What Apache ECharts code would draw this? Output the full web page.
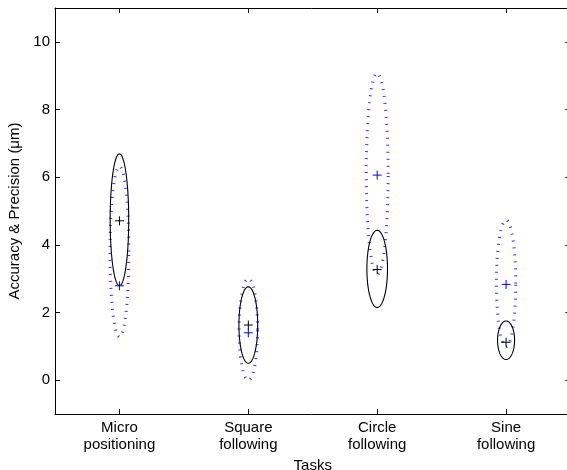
<!DOCTYPE html>
<html>
<head>
<meta charset="utf-8">
<script src="https://cdn.jsdelivr.net/npm/echarts@6/dist/echarts.min.js"></script>
<style>
  html, body { margin: 0; padding: 0; background: #fff; }
  #chart { width: 567px; height: 470px; }
</style>
</head>
<body>
<div id="chart"></div>
<script>
// tasks along the x axis
var categories = ['Micro\npositioning', 'Square\nfollowing', 'Circle\nfollowing', 'Sine\nfollowing']
var yTicks = [0, 2, 4, 6, 8, 10]

// black solid ellipses (um): centre, half height, half width in task units, marker
var solidCenter = [4.74, 1.63, 3.29, 1.18]
var solidHalfHeight = [1.95, 1.13, 1.14, 0.57]
var solidHalfWidth = [0.072, 0.073, 0.080, 0.066]
var solidMark = [4.71, 1.63, 3.27, 1.12]

// blue dotted ellipses
var dottedCenter = [3.80, 1.50, 6.10, 2.86]
var dottedHalfHeight = [2.52, 1.50, 2.97, 1.87]
var dottedHalfWidth = [0.073, 0.072, 0.085, 0.075]
var dottedMark = [2.79, 1.40, 6.06, 2.83]

var font = "'Liberation Sans', Arial, Helvetica, sans-serif"

function ellipseData(center, hh, hw) {
  return center.map(function(c, i) { return [i, c, hh[i], hw[i]] })
}

function ellipseItem(style) {
  return function(params, api) {
    var idx = api.value(0), cy = api.value(1), hh = api.value(2), hw = api.value(3)
    var rx = hw * api.size([1, 0])[0]
    var cx = api.coord([idx, cy])[0]
    var pts = []
    for (var k = 0; k <= 120; k++) {
      var a = (k / 120) * Math.PI * 2
      var y = api.coord([idx, cy + hh * Math.sin(a)])[1]
      pts.push([cx + rx * Math.cos(a), y])
    }
    return { type: 'polyline', shape: { points: pts }, style: style, silent: true }
  }
}

function plusItem(color) {
  return function(params, api) {
    var p = api.coord([api.value(0), api.value(1)])
    var s = 4.5
    var st = { stroke: color, lineWidth: 1 }
    return {
      type: 'group',
      children: [
        { type: 'line', shape: { x1: p[0] - s, y1: p[1], x2: p[0] + s, y2: p[1] }, style: st },
        { type: 'line', shape: { x1: p[0], y1: p[1] - s, x2: p[0], y2: p[1] + s }, style: st }
      ]
    }
  }
}

var chart = echarts.init(document.getElementById('chart'))

var tickStyle = { show: true, inside: true, length: 5, alignWithLabel: true, lineStyle: { color: '#000' } }

chart.setOption({
  animation: false,
  textStyle: { fontFamily: font },
  grid: { left: 55, top: 8, bottom: 56, right: -3.5, containLabel: false, outerBoundsMode: 'none' },
  xAxis: [{
    type: 'category',
    data: categories,
    boundaryGap: true,
    position: 'bottom',
    name: 'Tasks',
    nameLocation: 'middle',
    nameGap: 38,
    nameTextStyle: { color: '#000', fontSize: 15, fontFamily: font },
    axisLine: { onZero: false, lineStyle: { color: '#000', width: 1 } },
    axisTick: tickStyle,
    axisLabel: { color: '#000', fontSize: 15, lineHeight: 17, margin: 5, fontFamily: font, interval: 0 },
    splitLine: { show: false }
  }, {
    type: 'category',
    data: categories,
    boundaryGap: true,
    position: 'top',
    axisLine: { onZero: false, lineStyle: { color: '#000', width: 1 } },
    axisTick: tickStyle,
    axisLabel: { show: false },
    splitLine: { show: false }
  }],
  yAxis: [{
    type: 'value',
    min: -1,
    max: 11,
    position: 'left',
    name: 'Accuracy & Precision (μm)',
    nameLocation: 'middle',
    nameGap: 32,
    nameTextStyle: { color: '#000', fontSize: 15, fontFamily: font },
    axisLine: { show: true, onZero: false, lineStyle: { color: '#000', width: 1 } },
    axisTick: { show: true, inside: true, length: 5, customValues: yTicks, lineStyle: { color: '#000' } },
    axisLabel: { color: '#000', fontSize: 15, margin: 5, fontFamily: font, customValues: yTicks },
    splitLine: { show: false }
  }, {
    type: 'value',
    min: -1,
    max: 11,
    position: 'right',
    axisLine: { show: true, onZero: false, lineStyle: { color: '#000', width: 1 } },
    axisTick: { show: true, inside: true, length: 5, customValues: yTicks, lineStyle: { color: '#000' } },
    axisLabel: { show: false },
    splitLine: { show: false }
  }],
  series: [{
    type: 'custom',
    name: 'dotted',
    renderItem: ellipseItem({ fill: 'none', stroke: '#3030ff', lineWidth: 3, lineDash: [1, 6] }),
    data: ellipseData(dottedCenter, dottedHalfHeight, dottedHalfWidth),
    encode: { x: 0, y: 1 },
    z: 2
  }, {
    type: 'custom',
    name: 'solid',
    renderItem: ellipseItem({ fill: 'none', stroke: '#000', lineWidth: 1.1 }),
    data: ellipseData(solidCenter, solidHalfHeight, solidHalfWidth),
    encode: { x: 0, y: 1 },
    z: 3
  }, {
    type: 'custom',
    name: 'solidMark',
    renderItem: plusItem('#000'),
    data: solidMark.map(function(v, i) { return [i, v] }),
    encode: { x: 0, y: 1 },
    z: 4
  }, {
    type: 'custom',
    name: 'dottedMark',
    renderItem: plusItem('#0000ff'),
    data: dottedMark.map(function(v, i) { return [i, v] }),
    encode: { x: 0, y: 1 },
    z: 4
  }]
})
</script>
</body>
</html>
